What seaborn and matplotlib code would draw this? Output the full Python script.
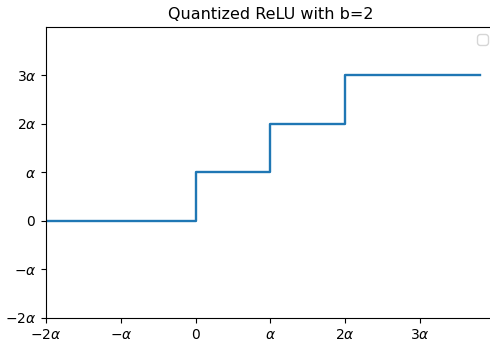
import matplotlib
matplotlib.use("Agg")
import matplotlib.pyplot as plt
import seaborn as sns
import numpy as np

# step points of the quantized ReLU (steps-post)
x_vals = [-2, 0, 1, 2, 3.8]
y_vals = [0, 1, 2, 3, 3]

x_ticks = [-2, -1, 0, 1, 2, 3]
x_labels = [r'$-2\alpha$', r'$-\alpha$', r'$0$', r'$\alpha$', r'$2\alpha$', r'$3\alpha$']
y_ticks = [-2, -1, 0, 1, 2, 3]
y_labels = [r'$-2\alpha$', r'$-\alpha$', r'$0$', r'$\alpha$', r'$2\alpha$', r'$3\alpha$']

plt.rcParams['mathtext.fontset'] = 'dejavusans'

fig = plt.figure(figsize=(4.9, 3.46), dpi=100)
ax = fig.add_axes([0.0939, 0.081, 0.916, 0.841])

sns.lineplot(x=x_vals, y=y_vals, drawstyle='steps-post', color='#1f77b4',
             linewidth=1.7, ax=ax, sort=False)

ax.set_xlim(-2, 4)
ax.set_ylim(-2, 4)
ax.set_xticks(x_ticks)
ax.set_xticklabels(x_labels)
ax.set_yticks(y_ticks)
ax.set_yticklabels(y_labels)
ax.set_title("Quantized ReLU with b=2", fontsize=11.5)
ax.legend(handles=[], loc='upper right')

fig.savefig("out.png", dpi=100)
